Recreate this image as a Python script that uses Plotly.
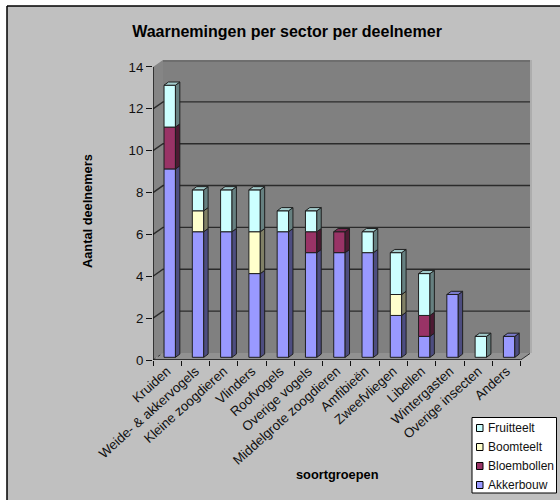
import plotly.graph_objects as go

categories = ["Kruiden", "Weide- & akkervogels", "Kleine zoogdieren", "Vlinders", "Roofvogels",
              "Overige vogels", "Middelgrote zoogdieren", "Amfibieën", "Zweefvliegen", "Libellen",
              "Wintergasten", "Overige insecten", "Anders"]
akkerbouw = [9, 6, 6, 4, 6, 5, 5, 5, 2, 1, 3, 0, 1]
bloembollen = [2, 0, 0, 0, 0, 1, 1, 0, 0, 1, 0, 0, 0]
boomteelt = [0, 1, 0, 2, 0, 0, 0, 0, 1, 0, 0, 0, 0]
fruitteelt = [2, 1, 2, 2, 1, 1, 0, 1, 2, 2, 0, 1, 0]
y_ticks = [0, 2, 4, 6, 8, 10, 12, 14]

W, H = 560, 500
X0, X1, Y0, Y1 = 153, 530, 360, 60
PX_X = 28.28
PX_Y = 20.93
FONT = "Liberation Sans"
series = [("Akkerbouw", akkerbouw, "#9999ff", "#4d4d80", "#7a7acc"),
          ("Bloembollen", bloembollen, "#993366", "#4d1a33", "#7a2952"),
          ("Boomteelt", boomteelt, "#ffffcc", "#808066", "#cccca3"),
          ("Fruitteelt", fruitteelt, "#ccffff", "#668080", "#a3cccc")]

def px(x):
    return x / W
def py(y):
    return 1 - y / H

x_range = [-0.5, -0.5 + (X1 - X0) / PX_X]
y_range = [0, (Y0 - Y1) / PX_Y]
wall_dx, wall_dy = 10 / PX_X, 7 / PX_Y
bar_dx, bar_dy = 2.6 / PX_X, 2.7 / PX_Y
depth_dx, depth_dy = 4.4 / PX_X, 3.2 / PX_Y
bar_w = 11.4 / PX_X
n = len(categories)
edge = "#1f1f1f"

fig = go.Figure()

# wall gridlines (back subplot)
for v in y_ticks:
    if v == 0:
        continue
    fig.add_trace(go.Scatter(x=[-0.5, -0.5 + wall_dx, n - 0.5 + wall_dx],
                             y=[v, v + wall_dy, v + wall_dy],
                             mode="lines", line=dict(color="#2b2b2b" if v < 14 else "rgba(0,0,0,0)", width=1.4),
                             showlegend=False, hoverinfo="skip", xaxis="x", yaxis="y"))
fig.add_trace(go.Scatter(x=[-0.5, -0.5 + wall_dx], y=[0, wall_dy], mode="lines",
                         line=dict(color="#3a3a3a", width=1, dash="dot"),
                         showlegend=False, hoverinfo="skip", xaxis="x", yaxis="y"))
fig.add_trace(go.Scatter(x=[n - 0.5, n - 0.5 + wall_dx], y=[0, wall_dy], mode="lines",
                         line=dict(color="#2b2b2b", width=1),
                         showlegend=False, hoverinfo="skip", xaxis="x", yaxis="y"))

# front faces + depth faces (front subplot)
base = [0] * n
bases = {}
for name, vals, col, side, top in series:
    bases[name] = list(base)
    idx = [i for i in range(n) if vals[i] > 0]
    fig.add_trace(go.Bar(x=[i + bar_dx for i in idx], y=[vals[i] for i in idx],
                         base=[base[i] + bar_dy for i in idx], width=bar_w,
                         marker=dict(color=col, line=dict(color=edge, width=1)),
                         name=name, showlegend=False, xaxis="x2", yaxis="y2"))
    base = [b + v for b, v in zip(base, vals)]

totals = base
for name, vals, col, side, top in series:
    bs = bases[name]
    for i in range(n):
        if vals[i] <= 0:
            continue
        xr = i + bar_dx + bar_w / 2
        yb = bs[i] + bar_dy
        yt = yb + vals[i]
        fig.add_trace(go.Scatter(x=[xr, xr + depth_dx, xr + depth_dx, xr, xr],
                                 y=[yb, yb + depth_dy, yt + depth_dy, yt, yb],
                                 mode="lines", fill="toself", fillcolor=side,
                                 line=dict(color=edge, width=1), showlegend=False,
                                 hoverinfo="skip", xaxis="x2", yaxis="y2"))
        if bs[i] + vals[i] == totals[i]:
            xl = xr - bar_w
            fig.add_trace(go.Scatter(x=[xl, xr, xr + depth_dx, xl + depth_dx, xl],
                                     y=[yt, yt, yt + depth_dy, yt + depth_dy, yt],
                                     mode="lines", fill="toself", fillcolor=top,
                                     line=dict(color=edge, width=1), showlegend=False,
                                     hoverinfo="skip", xaxis="x2", yaxis="y2"))

# axis lines
fig.add_trace(go.Scatter(x=[-0.5, -0.5, n - 0.5], y=[14, 0, 0], mode="lines",
                         line=dict(color="#111111", width=1.4), showlegend=False,
                         hoverinfo="skip", xaxis="x2", yaxis="y2", cliponaxis=False))

shapes = [
    dict(type="rect", xref="paper", yref="paper", x0=px(7), x1=px(W), y0=py(6), y1=py(H),
         fillcolor="#c0c0c0", line_width=0, layer="below"),
    dict(type="line", xref="paper", yref="paper", x0=px(7), x1=px(7), y0=py(6), y1=py(H),
         line=dict(color="black", width=1.5), layer="below"),
    dict(type="line", xref="paper", yref="paper", x0=px(7), x1=px(W), y0=py(6), y1=py(6),
         line=dict(color="black", width=1.5), layer="below"),
    # wall, side wall, floor
    dict(type="rect", xref="paper", yref="paper", x0=px(163), x1=px(530), y0=py(60), y1=py(353),
         fillcolor="#808080", line_width=0, layer="below"),
    dict(type="rect", xref="paper", yref="paper", x0=px(163), x1=px(530), y0=py(60), y1=py(62),
         fillcolor="#6e6e6e", line_width=0, layer="below"),
    dict(type="rect", xref="paper", yref="paper", x0=px(530), x1=px(532), y0=py(60), y1=py(353),
         fillcolor="#adadad", line_width=0, layer="below"),
    dict(type="path", xref="paper", yref="paper",
         path=f"M {px(153)} {py(67)} L {px(163)} {py(60)} L {px(163)} {py(353)} L {px(153)} {py(360)} Z",
         fillcolor="#858585", line_width=0, layer="below"),
    dict(type="path", xref="paper", yref="paper",
         path=f"M {px(153)} {py(360)} L {px(163)} {py(353)} L {px(530)} {py(353)} L {px(520.7)} {py(360)} Z",
         fillcolor="#919191", line_width=0, layer="below"),
    # legend box
    dict(type="rect", xref="paper", yref="paper", x0=px(472), x1=px(556.5), y0=py(417.5), y1=py(493),
         fillcolor="white", line=dict(color="black", width=1), layer="above"),
]
annotations = []
for k, (name, vals, col, side, top) in enumerate(reversed(series)):
    yc = 428 + k * 19
    shapes.append(dict(type="rect", xref="paper", yref="paper", x0=px(476.5), x1=px(483), y0=py(yc - 3.5),
                       y1=py(yc + 3.5), fillcolor=col, line=dict(color="black", width=1), layer="above"))
    annotations.append(dict(text=name, xref="paper", yref="paper", x=px(485.5), y=py(yc), xanchor="left",
                            yanchor="middle", showarrow=False, font=dict(family=FONT, size=12, color="#111111")))

annotations.append(dict(text="<b>soortgroepen</b>", xref="paper", yref="paper", x=px(337), y=py(484),
                        xanchor="center", showarrow=False, font=dict(family=FONT, size=12.8, color="black")))
annotations.append(dict(text="<b>Aantal deelnemers</b>", xref="paper", yref="paper", x=px(88), y=py(211),
                        xanchor="center", textangle=-90, showarrow=False, font=dict(family=FONT, size=12.8, color="black")))

dom_x = [px(X0), px(X1)]
dom_y = [py(Y0), py(Y1)]
fig.update_layout(
    width=W, height=H, margin=dict(l=0, r=0, t=0, b=0), paper_bgcolor="white", plot_bgcolor="rgba(0,0,0,0)",
    barmode="overlay", showlegend=False, font=dict(family=FONT, color="#111111"),
    title=dict(text="<b>Waarnemingen per sector per deelnemer</b>", x=287 / W, xanchor="center",
               y=py(31), yanchor="middle", automargin=False, font=dict(family=FONT, size=16, color="black")),
    shapes=shapes, annotations=annotations,
    xaxis=dict(domain=dom_x, range=x_range, anchor="y", tickmode="array", automargin=False,
               tickvals=[i - 0.5 for i in range(n + 1)], ticks="outside", ticklen=5, tickcolor="#111111",
               tickwidth=1.2, showticklabels=False, showgrid=False, zeroline=False, showline=False),
    yaxis=dict(domain=dom_y, range=y_range, anchor="x", showgrid=False, zeroline=False, showline=False,
               showticklabels=False, ticks="", automargin=False),
    xaxis2=dict(domain=dom_x, range=x_range, anchor="y2", tickmode="array", tickvals=list(range(n)), automargin=False,
                ticktext=categories, tickangle=-42, ticks="", showgrid=False, zeroline=False, showline=False,
                tickfont=dict(family=FONT, size=13.3, color="#111111")),
    yaxis2=dict(domain=dom_y, range=y_range, anchor="x2", tickmode="array", tickvals=y_ticks, ticks="outside", automargin=False,
                ticklen=6, tickcolor="#111111", tickwidth=1.2, showgrid=False, zeroline=False, showline=False,
                tickfont=dict(family=FONT, size=13.3, color="#111111")),
)
fig.write_html("out.html", config=dict(displayModeBar=False),
               post_script="document.body.style.margin='0';document.documentElement.style.overflow='hidden';")
